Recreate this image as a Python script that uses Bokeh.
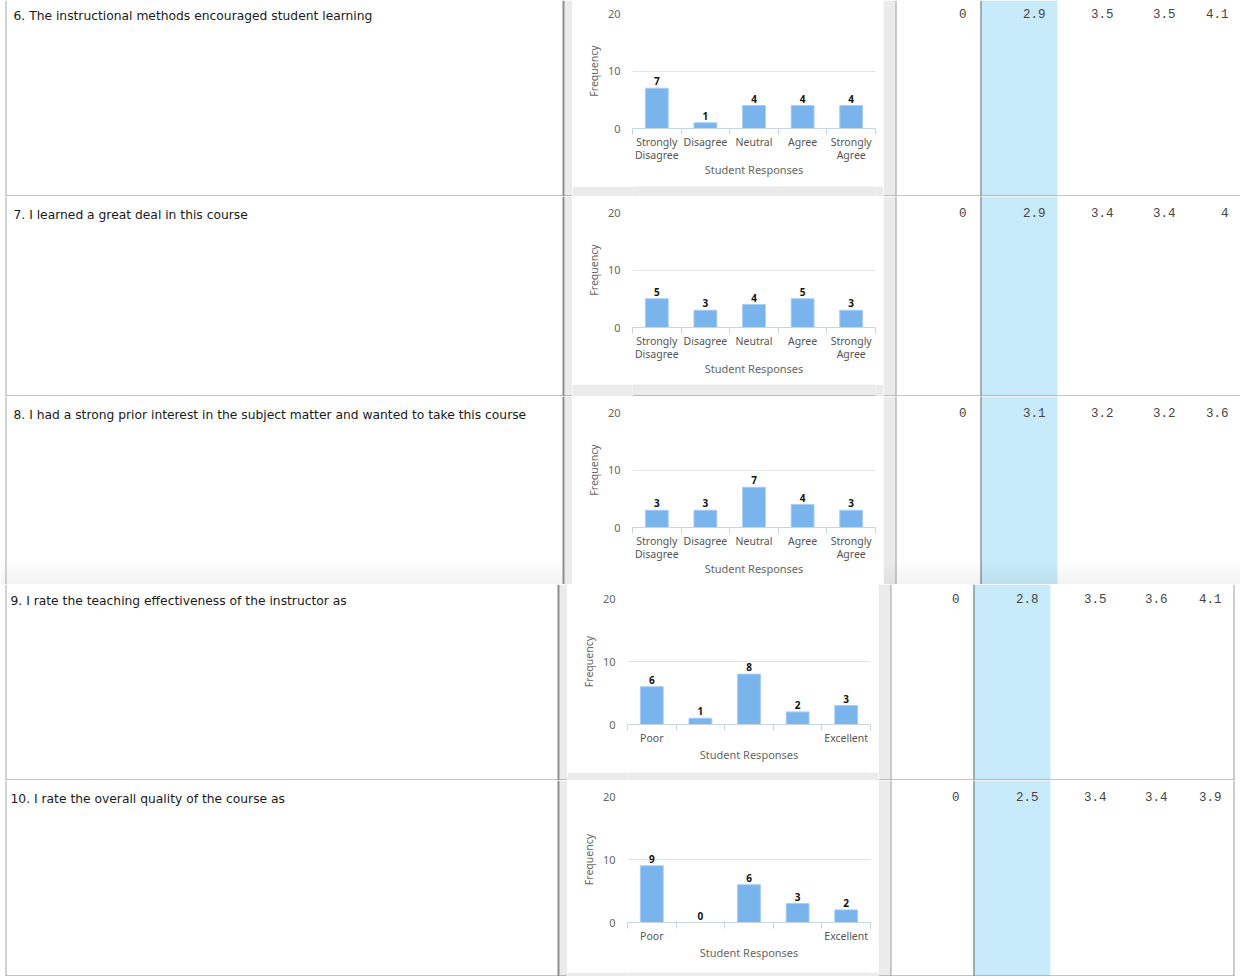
from bokeh.plotting import figure
from bokeh.layouts import row, column
from bokeh.models import Range1d, FixedTicker, ColumnDataSource
from bokeh.core.properties import value
from bokeh.embed import file_html
from bokeh.resources import INLINE

# ---------------- data ----------------
questions = [
    "6. The instructional methods encouraged student learning",
    "7. I learned a great deal in this course",
    "8. I had a strong prior interest in the subject matter and wanted to take this course",
    "9. I rate the teaching effectiveness of the instructor as",
    "10. I rate the overall quality of the course as",
]
agree_labels = ["Strongly\nDisagree", "Disagree", "Neutral", "Agree", "Strongly\nAgree"]
rating_labels = ["Poor", "", "", "", "Excellent"]
freq_ticks = [0, 10, 20]
freq_max = 20

freq_q6 = [7, 1, 4, 4, 4]
freq_q7 = [5, 3, 4, 5, 3]
freq_q8 = [3, 3, 7, 4, 3]
freq_q9 = [6, 1, 8, 2, 3]
freq_q10 = [9, 0, 6, 3, 2]

stats_q6 = [0, 2.9, 3.5, 3.5, 4.1]
stats_q7 = [0, 2.9, 3.4, 3.4, 4]
stats_q8 = [0, 3.1, 3.2, 3.2, 3.6]
stats_q9 = [0, 2.8, 3.5, 3.6, 4.1]
stats_q10 = [0, 2.5, 3.4, 3.4, 3.9]

x_title = "Student Responses"
y_title = "Frequency"

# ---------------- styles ----------------
BAR = "#7ab4ec"
BAR_EDGE = "#a8cdf3"
AXIS_BLUE = "#c6d6e9"
GRID = "#e3e3e3"
PANEL = "#ebebeb"
LINE = "#8c8c8c"
BLUE_COL = "#c8ebfb"
SANS = "Noto Sans"
CARD_W = 311
CARD_H = 182


def pix_fig(w, h, bg="white"):
    p = figure(width=w, height=h, x_range=Range1d(0, w), y_range=Range1d(h, 0),
               output_backend="svg", toolbar_location=None, min_border=0,
               x_axis_type=None, y_axis_type=None)
    p.outline_line_color = None
    p.background_fill_color = bg
    p.border_fill_color = bg
    return p


def box(p, l, r, t, b, color, alpha=1.0):
    p.quad(left=[l], right=[r], top=[t], bottom=[b], fill_color=color,
           fill_alpha=alpha, line_color=None)


def shade(p, w, h):
    # screenshot stitching shade at the bottom of row 8
    n = 12
    for k in range(n):
        box(p, 0, w, h - 24 + 2 * k, h - 22 + 2 * k, "black", 0.004 * (k + 1))


def chart(vals, labels, h=CARD_H):
    n = len(vals)
    xs = [i + 0.5 for i in range(n)]
    two_line = any("\n" in l for l in labels)
    bottom_border = 57 if two_line else 46
    p = figure(width=CARD_W, height=h, x_range=Range1d(0, n), y_range=Range1d(0, freq_max),
               output_backend="svg", toolbar_location=None,
               min_border_left=60, min_border_right=8, min_border_top=10,
               min_border_bottom=bottom_border)
    p.border_fill_color = "white"
    p.background_fill_color = "white"
    p.outline_line_color = None
    src = ColumnDataSource(dict(x=xs, top=vals, lab=[str(v) for v in vals]))
    p.vbar(x="x", top="top", bottom=0, width=0.47, source=src,
           fill_color=BAR, line_color=BAR_EDGE, line_width=1)
    p.text(x="x", y="top", text="lab", source=src, text_align="center",
           text_baseline="bottom", y_offset=-3, text_font=value(SANS),
           text_font_size="10px", text_font_style="bold", text_color="#111111")

    xa = p.xaxis[0]
    xa.ticker = FixedTicker(ticks=xs, minor_ticks=list(range(n + 1)))
    xa.major_label_overrides = {x: l for x, l in zip(xs, labels)}
    xa.major_tick_out = 0
    xa.major_tick_in = 0
    xa.minor_tick_in = 0
    xa.minor_tick_out = 6
    xa.minor_tick_line_color = AXIS_BLUE
    xa.axis_line_color = AXIS_BLUE
    xa.major_label_standoff = 0
    xa.major_label_text_font = SANS
    xa.major_label_text_font_size = "10.5px"
    xa.major_label_text_line_height = 0.95
    xa.major_label_text_color = "#555555"
    xa.axis_label = x_title
    xa.axis_label_text_font = SANS
    xa.axis_label_text_font_size = "11px"
    xa.axis_label_text_font_style = "normal"
    xa.axis_label_text_color = "#666666"
    xa.axis_label_standoff = -3 if two_line else -1

    ya = p.yaxis[0]
    ya.ticker = FixedTicker(ticks=freq_ticks)
    ya.major_tick_out = 0
    ya.major_tick_in = 0
    ya.minor_tick_out = 0
    ya.minor_tick_in = 0
    ya.axis_line_color = None
    ya.major_label_standoff = 12
    ya.major_label_text_font = SANS
    ya.major_label_text_font_size = "11px"
    ya.major_label_text_color = "#666666"
    ya.axis_label = y_title
    ya.axis_label_text_font = SANS
    ya.axis_label_text_font_size = "10.5px"
    ya.axis_label_text_font_style = "normal"
    ya.axis_label_text_color = "#666666"
    ya.axis_label_standoff = 4

    p.xgrid.visible = False
    p.ygrid.grid_line_color = GRID
    return p


SECTIONS = {
    "top": dict(text_w=572, pline=562, text_x=13, num_w=357, zero_r=83,
                blue=(97, 174), cols=[162, 230, 292, 345], rborder=None),
    "bottom": dict(text_w=567, pline=557, text_x=10, num_w=362, zero_r=81,
                   blue=(95, 172), cols=[160, 228, 289, 343], rborder=355),
}


def table_row(question, freqs, stats, labels, sec, top, bottom, hline=True, shaded=False):
    cfg = SECTIONS[sec]
    H = top + CARD_H + bottom

    # question cell
    t = pix_fig(cfg["text_w"], H)
    if shaded:
        shade(t, cfg["text_w"], H)
    box(t, 5, 6, 0, H, "#a5a5a5")
    box(t, cfg["pline"] + 2, cfg["text_w"], 0, H, PANEL)
    box(t, cfg["pline"], cfg["pline"] + 2, 0, H, LINE)
    if hline:
        box(t, 5, cfg["text_w"], H - 1, H, LINE)
    t.text(x=[cfg["text_x"]], y=[top + 12], text=[question], text_baseline="middle",
           text_align="left", text_font=value("DejaVu Sans"), text_font_size="12.3px",
           text_color="#1a1a1a")

    # chart panel
    parts = []
    if top > 0:
        parts.append(pix_fig(CARD_W, top, PANEL))
    parts.append(chart(freqs, labels))
    if bottom > 0:
        s = pix_fig(CARD_W, bottom, PANEL)
        if hline:
            box(s, 0, CARD_W, bottom - 1, bottom, LINE)
        parts.append(s)
    mid = column(*parts, spacing=0)

    # statistics cell
    w = cfg["num_w"]
    nfig = pix_fig(w, H)
    box(nfig, 0, 12, 0, H, PANEL)
    box(nfig, 12, 13, 0, H, "#999999")
    b0, b1 = cfg["blue"]
    box(nfig, b0, b1, 0, H, BLUE_COL)
    box(nfig, b0, b0 + 1, 0, H, "#6d6d6d")
    if cfg["rborder"] is not None:
        box(nfig, cfg["rborder"], cfg["rborder"] + 1, 0, H, "#a0a0a0")
    if shaded:
        shade(nfig, w, H)
    if hline:
        right = cfg["rborder"] + 1 if cfg["rborder"] is not None else w
        box(nfig, 0, right, H - 1, H, LINE)
    xs = [cfg["zero_r"]] + cfg["cols"]
    nfig.text(x=xs, y=[top + 10] * len(xs), text=[f"{v:g}" for v in stats],
              text_align="right", text_baseline="middle",
              text_font=value("Liberation Mono"), text_font_size="12.5px",
              text_color="#444444")

    return row(t, mid, nfig, spacing=0)


rows = [
    table_row(questions[0], freq_q6, stats_q6, agree_labels, "top", 3, 11),
    table_row(questions[1], freq_q7, stats_q7, agree_labels, "top", 6, 12),
    table_row(questions[2], freq_q8, stats_q8, agree_labels, "top", 6, 0, hline=False, shaded=True),
    table_row(questions[3], freq_q9, stats_q9, rating_labels, "bottom", 4, 10),
    table_row(questions[4], freq_q10, stats_q10, rating_labels, "bottom", 6, 8),
]

page = column(*rows, spacing=0)
open("out.html", "w").write(file_html(page, INLINE))
